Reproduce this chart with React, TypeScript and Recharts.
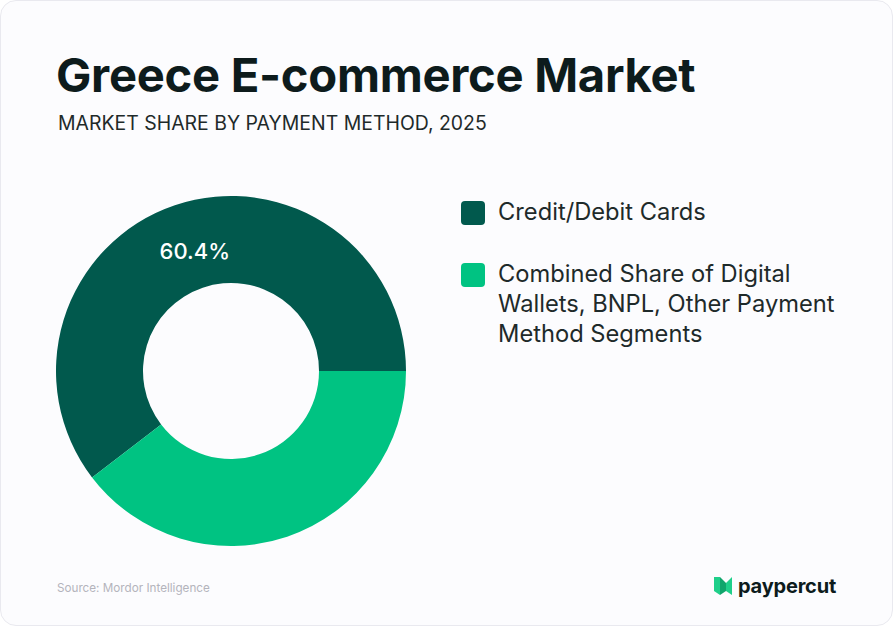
import React from "react";
import { PieChart, Pie, Cell } from "recharts";

const categories = [
  "Credit/Debit Cards",
  "Combined Share of Digital Wallets, BNPL, Other Payment Method Segments",
];
const shares = [60.4, 39.6];
const colors = ["#01594d", "#00c382"];
const shownLabels = ["60.4%", ""];
const legendLines = [["Credit/Debit Cards"], ["Combined Share of Digital", "Wallets, BNPL, Other Payment", "Method Segments"]];

const data = categories.map((name, i) => ({ name, value: shares[i] }));

const RAD = Math.PI / 180;

const renderLabel = (props: any) => {
  const { cx, cy, midAngle, innerRadius, outerRadius, index } = props;
  const text = shownLabels[index];
  if (!text) return null;
  const r = (innerRadius + outerRadius) / 2;
  const x = cx + r * Math.cos(-midAngle * RAD);
  const y = cy + r * Math.sin(-midAngle * RAD);
  return (
    <text
      x={x + 6}
      y={y + 5}
      fill="#ffffff"
      textAnchor="middle"
      dominantBaseline="central"
      style={{ fontFamily: "Inter", fontSize: 22, fontWeight: 500 }}
    >
      {text}
    </text>
  );
};

export default function App() {
  return (
    <div style={{ position: "fixed", left: 0, top: 0, width: 893, height: 626, background: "#ffffff" }}>
      <div
        style={{
          position: "absolute",
          left: 0,
          top: 0,
          width: 891,
          height: 624,
          border: "1px solid #e9e9ef",
          borderRadius: 16,
          background: "#fcfcfe",
          overflow: "hidden",
        }}
      >
        <div
          style={{
            position: "absolute",
            left: 55,
            top: 45,
            fontFamily: "Inter",
            fontWeight: 700,
            fontSize: 47.2,
            color: "#0d1b1c",
            letterSpacing: -0.3,
            whiteSpace: "nowrap",
          }}
        >
          Greece E-commerce Market
        </div>
        <div
          style={{
            position: "absolute",
            left: 57,
            top: 110,
            fontFamily: "Inter",
            fontWeight: 400,
            fontSize: 19.45,
            color: "#1e2a2a",
            whiteSpace: "nowrap",
          }}
        >
          MARKET SHARE BY PAYMENT METHOD, 2025
        </div>
        <div style={{ position: "absolute", left: 0, top: 0 }}>
          <PieChart width={891} height={624} margin={{ top: 0, right: 0, bottom: 0, left: 0 }}>
            <Pie
              data={data}
              dataKey="value"
              nameKey="name"
              cx={230}
              cy={370}
              innerRadius={88}
              outerRadius={175}
              startAngle={0}
              endAngle={360}
              stroke="none"
              label={renderLabel}
              labelLine={false}
              isAnimationActive={false}
            >
              {data.map((d, i) => (
                <Cell key={d.name} fill={colors[i]} />
              ))}
            </Pie>
          </PieChart>
        </div>
        <div style={{ position: "absolute", left: 460, top: 196, fontFamily: "Inter", color: "#1e2a2a" }}>
          {legendLines.map((lines, i) => (
            <div key={i} style={{ display: "flex", alignItems: "flex-start", marginBottom: i === 0 ? 32 : 0 }}>
              <div
                style={{
                  width: 24,
                  height: 24,
                  borderRadius: 4,
                  background: colors[i],
                  marginTop: 4,
                  marginRight: 13,
                  flexShrink: 0,
                }}
              />
              <div style={{ fontSize: 23.7, lineHeight: "30px", whiteSpace: "nowrap" }}>
                {lines.map((l, j) => (
                  <div key={j}>{l}</div>
                ))}
              </div>
            </div>
          ))}
        </div>
        <div
          style={{
            position: "absolute",
            left: 56,
            top: 580,
            fontFamily: "Inter",
            fontSize: 11.7,
            color: "#b4b4bc",
          }}
        >
          Source: Mordor Intelligence
        </div>
        <div style={{ position: "absolute", left: 713, top: 573, display: "flex", alignItems: "center" }}>
          <svg width={20} height={18} viewBox="0 0 20 18">
            <polygon points="0,0 6,0 6,18 0,14" fill="#1fcf8a" />
            <polygon points="6,0 12,6 12,14 6,18" fill="#10a56c" />
            <polygon points="12,6 18,0 18,18 12,14" fill="#1fcf8a" />
          </svg>
          <span
            style={{
              marginLeft: 4,
              fontFamily: "Inter",
              fontWeight: 700,
              fontSize: 20,
              color: "#0d1b1c",
              letterSpacing: -0.2,
              lineHeight: "24px",
            }}
          >
            paypercut
          </span>
        </div>
      </div>
    </div>
  );
}
